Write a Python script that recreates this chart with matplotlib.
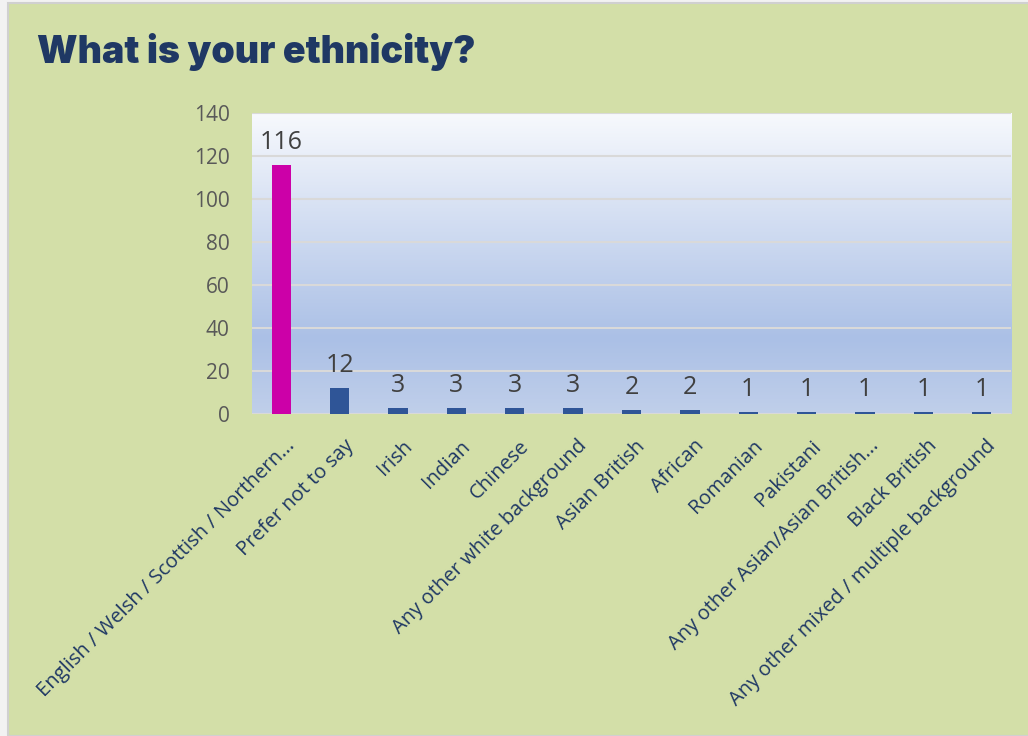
import numpy as np
import matplotlib.pyplot as plt
import matplotlib.transforms as mtransforms
from matplotlib.colors import LinearSegmentedColormap
from matplotlib.patches import Rectangle

# data
categories = ['English / Welsh / Scottish / Northern...', 'Prefer not to say', 'Irish', 'Indian',
              'Chinese', 'Any other white background', 'Asian British', 'African', 'Romanian',
              'Pakistani', 'Any other Asian/Asian British...', 'Black British',
              'Any other mixed / multiple background']
counts = [116, 12, 3, 3, 3, 3, 2, 2, 1, 1, 1, 1, 1]
bar_colors = ['#cc00a8'] + ['#2f5597'] * 12
yticks = [0, 20, 40, 60, 80, 100, 120, 140]

bg = '#d3dfa8'
navy = '#1f3864'

fig = plt.figure(figsize=(10.28, 7.36), dpi=100, facecolor='#f2f2f2')
# green panel with a thin grey edge (left/top strip like the slide border)
fig.patches.append(Rectangle((8 / 1028, 0), 1.1, 1 - 3 / 736, transform=fig.transFigure,
                             facecolor=bg, edgecolor='#d0d0d0', linewidth=1.5, zorder=-10))

ax = fig.add_axes([252 / 1028, 1 - 414 / 736, 759 / 1028, 301 / 736])

# gradient plot area
grad = LinearSegmentedColormap.from_list('g', [(0, '#f7f9fd'), (0.75, '#abc0e6'), (1, '#c0cfea')])
ax.imshow(np.linspace(0, 1, 256).reshape(-1, 1), aspect='auto', cmap=grad,
          extent=[0, 1, 0, 1], transform=ax.transAxes, zorder=0)

x = np.arange(len(categories))
ax.bar(x, counts, width=0.33, color=bar_colors, zorder=3)
for xi, v in zip(x, counts):
    ax.annotate(str(v), (xi, v), xytext=(0, 7), textcoords='offset points',
                ha='center', va='bottom', fontsize=18, color='#404040',
                family='Open Sans', zorder=4)

ax.set_xlim(-0.5, len(categories) - 0.5)
ax.set_ylim(0, 140)
ax.set_yticks(yticks)
ax.yaxis.grid(True, color='#d9d9d9', linewidth=1.5, zorder=1)
ax.set_axisbelow(True)
for s in ax.spines.values():
    s.set_visible(False)
ax.tick_params(axis='both', length=0)
ax.tick_params(axis='y', labelsize=15, labelcolor='#595959', pad=16)
for lab in ax.get_yticklabels():
    lab.set_family('Open Sans')

ax.set_xticks(x)
ax.set_xticklabels(categories, rotation=45, ha='right', va='top', rotation_mode='anchor',
                   fontsize=14.5, color=navy, family='Open Sans')
ax.tick_params(axis='x', pad=16)
shift = mtransforms.ScaledTranslation(4 / 100, 0, fig.dpi_scale_trans)
for lab in ax.get_xticklabels():
    lab.set_transform(lab.get_transform() + shift)

fig.text(37 / 1028, 1 - 52 / 736, 'What is your ethnicity?', fontsize=27, fontweight='black',
         color=navy, family='Inter', va='center', ha='left')

plt.savefig('out.png', dpi=100, facecolor=fig.get_facecolor())
